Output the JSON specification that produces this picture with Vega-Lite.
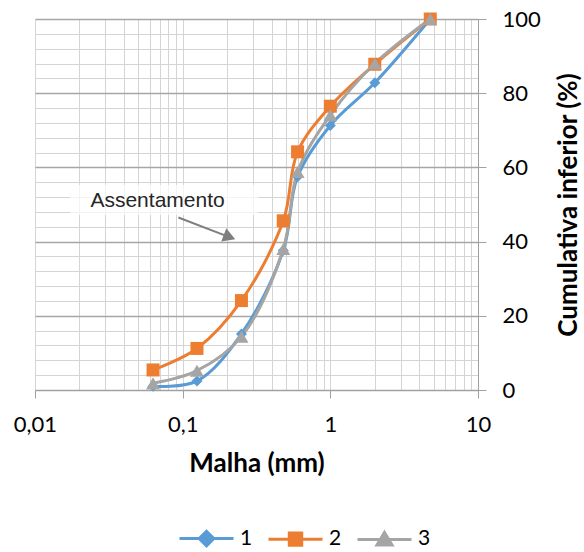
{
  "$schema": "https://vega.github.io/schema/vega-lite/v6.json",
  "width": 443,
  "height": 371,
  "autosize": {"type": "none"},
  "padding": {"left": 35, "top": 19, "right": 106, "bottom": 162},
  "background": "white",
  "config": {"view": {"stroke": null}, "font": "Lato"},
  "datasets": {
    "series": [
      {"s": "1", "x": 0.063, "y": 1.0},
      {"s": "1", "x": 0.125, "y": 2.4},
      {"s": "1", "x": 0.25, "y": 15.1},
      {"s": "1", "x": 0.48, "y": 37.6},
      {"s": "1", "x": 0.6, "y": 57.5},
      {"s": "1", "x": 1.0, "y": 71.3},
      {"s": "1", "x": 2.0, "y": 82.8},
      {"s": "1", "x": 4.75, "y": 100},
      {"s": "2", "x": 0.063, "y": 5.4},
      {"s": "2", "x": 0.125, "y": 11.2},
      {"s": "2", "x": 0.25, "y": 24.1},
      {"s": "2", "x": 0.48, "y": 45.6},
      {"s": "2", "x": 0.6, "y": 64.2},
      {"s": "2", "x": 1.0, "y": 76.5},
      {"s": "2", "x": 2.0, "y": 87.8},
      {"s": "2", "x": 4.75, "y": 100},
      {"s": "3", "x": 0.063, "y": 1.8},
      {"s": "3", "x": 0.125, "y": 5.2},
      {"s": "3", "x": 0.25, "y": 14.4},
      {"s": "3", "x": 0.48, "y": 38.0},
      {"s": "3", "x": 0.6, "y": 58.8},
      {"s": "3", "x": 1.0, "y": 74.1},
      {"s": "3", "x": 2.0, "y": 88.0},
      {"s": "3", "x": 4.75, "y": 100}
    ],
    "box": [{"x": 0.01726, "x2": 0.3245, "y": 47.2, "y2": 55.3}],
    "label": [{"x": 0.0676, "y": 49.4, "t": "Assentamento"}],
    "arrow": [{"x": 0.0935, "y": 46.5, "x2": 0.2075, "y2": 41.2}],
    "head": [{"x": 0.2075, "y": 41.2}]
  },
  "layer": [
    {
      "data": {"name": "box"},
      "mark": {"type": "rect", "fill": "white", "opacity": 0.72},
      "encoding": {
        "x": {"field": "x", "type": "quantitative", "scale": {"type": "log", "domain": [0.01, 10]}},
        "x2": {"field": "x2"},
        "y": {"field": "y", "type": "quantitative", "scale": {"domain": [0, 100], "nice": false}},
        "y2": {"field": "y2"}
      }
    },
    {
      "data": {"name": "series"},
      "mark": {"type": "line", "strokeWidth": 3, "interpolate": "catmull-rom"},
      "encoding": {
        "x": {
          "field": "x", "type": "quantitative",
          "scale": {"type": "log", "domain": [0.01, 10]},
          "axis": {
            "title": "Malha (mm)",
            "titleFont": "Lato", "titleFontSize": 26, "titleFontWeight": "bold", "titleColor": "#000000",
            "titlePadding": 15,
            "values": [0.01,0.02,0.03,0.04,0.05,0.06,0.07,0.08,0.09,0.1,0.2,0.3,0.4,0.5,0.6,0.7,0.8,0.9,1,2,3,4,5,6,7,8,9,10],
            "tickCount": 100,
            "labelExpr": "indexof([0.01,0.1,1,10], datum.value) >= 0 ? replace('' + datum.value, '.', ',') : ''",
            "labelFont": "Lato", "labelFontSize": 22, "labelColor": "#000000", "labelPadding": 16,
            "labelOverlap": false, "labelFlush": false,
            "grid": true, "gridColor": "#d4d4d4", "gridWidth": 1,
            "domainColor": "#a0a0a0", "domainWidth": 1,
            "tickSize": 8, "tickColor": "#a0a0a0",
            "tickOpacity": {"condition": {"test": "indexof([0.01,0.1,1,10], datum.value) >= 0", "value": 1}, "value": 0}
          }
        },
        "y": {
          "field": "y", "type": "quantitative",
          "scale": {"domain": [0, 100], "nice": false},
          "axis": {
            "orient": "right",
            "title": "Cumulativa inferior (%)",
            "titleFont": "Lato", "titleFontSize": 26, "titleFontWeight": "bold", "titleColor": "#000000",
            "titleAngle": 270, "titlePadding": 41,
            "values": [0,4,8,12,16,20,24,28,32,36,40,44,48,52,56,60,64,68,72,76,80,84,88,92,96,100],
            "tickCount": 100,
            "labelExpr": "datum.value % 20 === 0 ? '' + datum.value : ''",
            "labelFont": "Lato", "labelFontSize": 22, "labelColor": "#000000", "labelPadding": 16,
            "labelOverlap": false,
            "grid": true,
            "gridColor": {"condition": {"test": "datum.value % 20 === 0", "value": "#a6a6a6"}, "value": "#d4d4d4"},
            "gridWidth": {"condition": {"test": "datum.value % 20 === 0", "value": 1.5}, "value": 1},
            "domainColor": "#a0a0a0",
            "tickSize": 8, "tickColor": "#a0a0a0",
            "tickOpacity": {"condition": {"test": "datum.value % 20 === 0", "value": 1}, "value": 0}
          }
        },
        "color": {
          "field": "s", "type": "nominal",
          "scale": {"domain": ["1", "2", "3"], "range": ["#5B9BD5", "#ED7D31", "#A5A5A5"]},
          "legend": {
            "title": null,
            "orient": "none",
            "direction": "horizontal",
            "legendX": 143,
            "legendY": 491,
            "symbolSize": 2916,
            "symbolStrokeWidth": 3,
            "labelFont": "Lato", "labelFontSize": 21, "labelColor": "#000000",
            "labelOffset": 5,
            "columnPadding": 9,
            "encode": {
              "symbols": {
                "update": {
                  "shape": {"signal": "datum.value === '1' ? 'M-1,0H1M0,-0.27L0.27,0L0,0.27L-0.27,0Z' : datum.value === '2' ? 'M-1,0H1M-0.23,-0.23H0.23V0.23H-0.23Z' : 'M-1,0H1M0,-0.26L0.28,0.21H-0.28Z'"},
                  "fill": {"signal": "datum.value === '1' ? '#5B9BD5' : datum.value === '2' ? '#ED7D31' : '#A5A5A5'"},
                  "stroke": {"signal": "datum.value === '1' ? '#5B9BD5' : datum.value === '2' ? '#ED7D31' : '#A5A5A5'"},
                  "strokeWidth": {"value": 3},
                  "size": {"value": 2916},
                  "opacity": {"value": 1}
                }
              }
            }
          }
        }
      }
    },
    {
      "data": {"name": "series"},
      "transform": [{"filter": "datum.s === '1'"}],
      "mark": {"type": "point", "filled": true, "opacity": 1, "shape": "diamond", "size": 121, "color": "#5B9BD5"},
      "encoding": {
        "x": {"field": "x", "type": "quantitative"},
        "y": {"field": "y", "type": "quantitative"}
      }
    },
    {
      "data": {"name": "series"},
      "transform": [{"filter": "datum.s === '2'"}],
      "mark": {"type": "point", "filled": true, "opacity": 1, "shape": "square", "size": 169, "color": "#ED7D31"},
      "encoding": {
        "x": {"field": "x", "type": "quantitative"},
        "y": {"field": "y", "type": "quantitative"}
      }
    },
    {
      "data": {"name": "series"},
      "transform": [{"filter": "datum.s === '3'"}],
      "mark": {"type": "point", "filled": true, "opacity": 1, "shape": "triangle-up", "size": 196, "color": "#A5A5A5"},
      "encoding": {
        "x": {"field": "x", "type": "quantitative"},
        "y": {"field": "y", "type": "quantitative"}
      }
    },
    {
      "data": {"name": "label"},
      "mark": {"type": "text", "font": "Liberation Sans", "fontSize": 21, "color": "#262626", "align": "center", "baseline": "alphabetic"},
      "encoding": {
        "x": {"field": "x", "type": "quantitative"},
        "y": {"field": "y", "type": "quantitative"},
        "text": {"field": "t"}
      }
    },
    {
      "data": {"name": "arrow"},
      "mark": {"type": "rule", "color": "#7f7f7f", "strokeWidth": 2},
      "encoding": {
        "x": {"field": "x", "type": "quantitative"},
        "y": {"field": "y", "type": "quantitative"},
        "x2": {"field": "x2"},
        "y2": {"field": "y2"}
      }
    },
    {
      "data": {"name": "head"},
      "mark": {"type": "point", "shape": "triangle-right", "filled": true, "color": "#7f7f7f", "size": 200, "angle": 21, "opacity": 1},
      "encoding": {
        "x": {"field": "x", "type": "quantitative"},
        "y": {"field": "y", "type": "quantitative"}
      }
    }
  ]
}
